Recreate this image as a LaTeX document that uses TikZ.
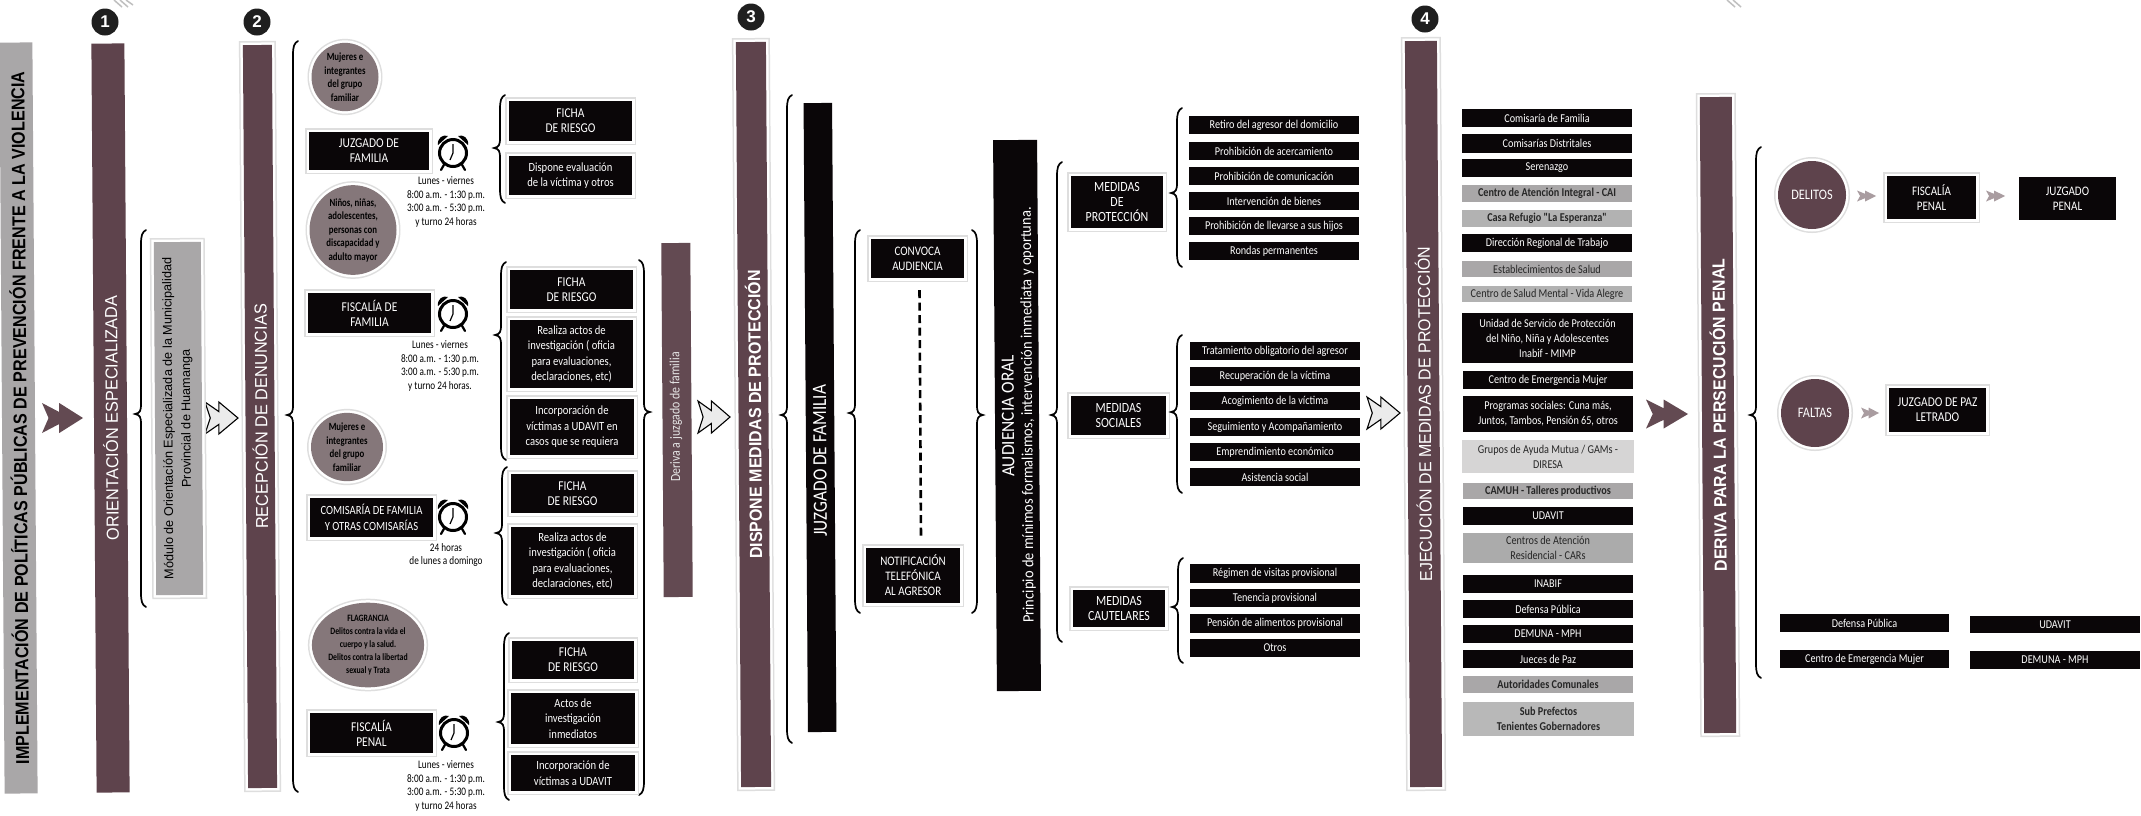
\documentclass[tikz,border=0pt]{standalone}
\usepackage{fontspec}
\usepackage{graphicx}
\usetikzlibrary{shapes.geometric,calc}
\newfontfamily\hf{Liberation Sans}
\newfontfamily\boxf[FakeStretch=0.85]{Carlito}
\newfontfamily\narf[FakeStretch=0.8]{Carlito}
\definecolor{mauve}{HTML}{5E434C}
\definecolor{mauvelight}{HTML}{634A52}
\definecolor{inkblack}{HTML}{0A0608}
\definecolor{greybox}{HTML}{A9A7A8}
\definecolor{paleboxc}{HTML}{D6D5D5}
\definecolor{haloc}{HTML}{DEDEDE}
\definecolor{circfill}{HTML}{85777A}
\definecolor{smallarrow}{HTML}{A99CA0}
\newcommand{\fs}[2]{\fontsize{#1}{#2}\selectfont}
\newcommand{\fit}[3]{\resizebox{#1pt}{#2pt}{#3}}
\newcommand{\rbox}[7]{%
  \pgfmathsetmacro{\bcx}{(#3+#5)/2}\pgfmathsetmacro{\bcy}{(#4+#6)/2}%
  \pgfmathsetmacro{\bw}{#5-#3}\pgfmathsetmacro{\bh}{#6-#4}%
  \node[#1,minimum width=\bw pt,minimum height=\bh pt] (#2) at (\bcx,\bcy) {#7};}
\newcommand{\curly}[5]{%
  \draw[bracket] ({#1+5*(#5)},#2) .. controls ({#1+1*(#5)},{#2+2}) and (#1,{#2+6}) .. (#1,{#2+14})
    -- (#1,{#3-10}) .. controls (#1,{#3-3}) and ({#1-1*(#5)},{#3-1}) .. ({#1-6*(#5)},#3)
    .. controls ({#1-1*(#5)},{#3+1}) and (#1,{#3+3}) .. (#1,{#3+10})
    -- (#1,{#4-14}) .. controls (#1,{#4-6}) and ({#1+1*(#5)},{#4-2}) .. ({#1+5*(#5)},#4);}
\newcommand{\dblarrow}[5]{%
  \begin{scope}[shift={(#2,#3)},x=#4pt,y=#5pt]
  \draw[#1] (0,-.5) -- (.42,-.2) -- (.42,-.5) -- (1,0) -- (.42,.5) -- (.42,.2) -- (0,.5) -- (.16,0) -- cycle;
  \end{scope}}
\newcommand{\clock}[2]{%
  \begin{scope}[shift={(#1,#2)}]
  \draw[line width=2.2pt,line cap=round] (-8,10) -- (-12,17) (8,10) -- (12,17);
  \fill[black] (-15,-8) .. controls (-16,-15) and (-10,-19) .. (-5,-17) -- cycle;
  \fill[black] (15,-8) .. controls (16,-15) and (10,-19) .. (5,-17) -- cycle;
  \draw[line width=3pt,fill=white] (0,0) circle (13.5);
  \draw[line width=1.2pt] (0,-9) -- (0,0) -- (-3,7);
  \end{scope}}
\tikzset{
  x=1pt,y=-1pt,
  halo/.style={preaction={draw=haloc,line width=8pt},preaction={draw=white,line width=5pt}},
  barbox/.style={rectangle,rotate=90.4,inner sep=0pt,fill=mauve,text=white},
  inkbox/.style={rectangle,fill=inkblack,text=white,inner sep=0pt,align=center,font=\boxf\fs{12.5}{15.5}},
  capbox/.style={inkbox,halo,font=\boxf\fs{13.5}{15}},
  listbox/.style={inkbox,font=\boxf\fs{12}{15}},
  greyitem/.style={rectangle,fill=greybox,text=black!85,inner sep=0pt,align=center,font=\boxf\bfseries\fs{12}{15}},
  paleitem/.style={greyitem,fill=paleboxc,font=\boxf\fs{12}{15}},
  bluecirc/.style={ellipse,fill=circfill,inner sep=0pt,align=center,text=black,halo,font=\narf\bfseries\fs{11}{13.5}},
  darkcirc/.style={ellipse,fill=mauve,inner sep=0pt,align=center,text=white,halo,font=\boxf\fs{14.5}{15}},
  badge/.style={circle,fill=black!88,text=white,inner sep=0pt,minimum size=27pt,font=\hf\bfseries\fs{17}{17}},
  note/.style={inner sep=0pt,align=center,text=black,font=\narf\fs{11.5}{13.7}},
  bracket/.style={draw=black,line width=1.7pt,line cap=round,fill=none},
  fatarrow/.style={fill=mauvelight,draw=none},
  hollowarrow/.style={fill=black!8,draw=black,line width=1.1pt},
  tinyarrow/.style={fill=smallarrow,draw=none},
  vlabel/.style={rotate=90.4,inner sep=0pt,align=center},
}
\begin{document}
\begin{tikzpicture}
\useasboundingbox (0,0) rectangle (2141,815);
\fill[white] (0,0) rectangle (2141,815);
% stray scan marks
\draw[black!25,line width=1.5pt] (114,0) -- (122,7) (120,0) -- (128,7) (126,0) -- (133,5);
\draw[black!25,line width=1.5pt] (1727,0) -- (1735,7) (1733,0) -- (1741,7);
% main bars
\node[barbox,fill=greybox,text=black,minimum width=751pt,minimum height=33pt] (b0) at (18.5,418) {\fit{693}{16.5}{\hf\bfseries IMPLEMENTACIÓN DE POLÍTICAS PÚBLICAS DE PREVENCIÓN FRENTE A LA VIOLENCIA}};
\node[barbox,minimum width=749pt,minimum height=33pt] (b1) at (110.5,418) {\fit{245}{15}{\hf ORIENTACIÓN ESPECIALIZADA}};
\node[barbox,halo,minimum width=743pt,minimum height=29pt] (b2) at (260,416.5) {\fit{225}{15}{\hf RECEPCIÓN DE DENUNCIAS}};
\node[barbox,halo,minimum width=745pt,minimum height=30pt] (b3) at (753.5,414.5) {\fit{289}{15.5}{\hf\bfseries DISPONE MEDIDAS DE PROTECCIÓN}};
\node[barbox,halo,minimum width=746pt,minimum height=32pt] (b4) at (1423.5,414) {\fit{335}{15}{\hf EJECUCIÓN DE MEDIDAS DE PROTECCIÓN}};
\node[barbox,halo,minimum width=636pt,minimum height=32pt] (b5) at (1718,415) {\fit{313}{15.5}{\hf\bfseries DERIVA PARA LA PERSECUCIÓN PENAL}};
% badges
\node[badge] (n1) at (105,22) {1};
\node[badge] (n2) at (257,22) {2};
\node[badge] (n3) at (751,17) {3};
\node[badge] (n4) at (1425,19) {4};
% arrows
\dblarrow{fatarrow}{42}{418}{41}{30}
\dblarrow{hollowarrow}{205}{418}{33}{32}
\dblarrow{hollowarrow}{698}{417}{32}{32}
\dblarrow{hollowarrow}{1367}{413}{33}{32}
\dblarrow{fatarrow}{1646}{414}{42}{29}
\dblarrow{tinyarrow}{1857}{196}{19}{11}
\dblarrow{tinyarrow}{1986}{196}{19}{11}
\dblarrow{tinyarrow}{1861}{413}{18}{11}
% modulo
\node[barbox,halo,fill=greybox,text=black,minimum width=353pt,minimum height=47pt] (mod) at (178.5,418.5) {};
\node[vlabel,text=black,font=\hf\fs{12.7}{18}] (modt) at (178,418.5) {Módulo de Orientación Especializada de la Municipalidad\\Provincial de Huamanga};
\curly{141}{230}{414}{607}{1}
% big brace
\curly{293}{41}{415}{792}{1}
% circles + source boxes
\node[bluecirc,minimum width=67pt,minimum height=66pt] (c1) at (345,77) {Mujeres e\\integrantes\\del grupo\\familiar};
\rbox{capbox}{jf}{309}{132}{429}{170}{JUZGADO DE\\FAMILIA}
\clock{453}{153}
\node[note] (h1) at (446,202) {Lunes - viernes\\8:00 a.m. - 1:30 p.m.\\3:00 a.m. - 5:30 p.m.\\y turno 24 horas};
\node[bluecirc,minimum width=87pt,minimum height=87pt] (c2) at (353,230) {Niños, niñas,\\adolescentes,\\personas con\\discapacidad y\\adulto mayor};
\rbox{capbox}{ff}{308}{293}{431}{333}{FISCALÍA DE\\FAMILIA}
\clock{453}{314}
\node[note] (h2) at (440,366) {Lunes - viernes\\8:00 a.m. - 1:30 p.m.\\3:00 a.m. - 5:30 p.m.\\y turno 24 horas.};
\node[bluecirc,minimum width=72pt,minimum height=67pt] (c3) at (347,447) {Mujeres e\\integrantes\\del grupo\\familiar};
\rbox{capbox,font=\boxf\fs{12.5}{16}}{cf}{310}{498}{433}{537}{COMISARÍA DE FAMILIA\\Y OTRAS COMISARÍAS}
\clock{453}{517}
\node[note] (h3) at (446,555) {24 horas\\de lunes a domingo};
\node[bluecirc,minimum width=107pt,minimum height=84pt,font=\narf\bfseries\fs{9.7}{13}] (c4) at (368,645) {FLAGRANCIA\\Delitos contra la vida el\\cuerpo y la salud.\\Delitos contra la libertad\\sexual y Trata};
\rbox{capbox}{fp}{310}{713}{433}{753}{FISCALÍA\\PENAL}
\clock{454}{733}
\node[note] (h4) at (446,786) {Lunes - viernes\\8:00 a.m. - 1:30 p.m.\\3:00 a.m. - 5:30 p.m.\\y turno 24 horas};
% ficha groups
\curly{500}{95}{148}{203}{1}
\curly{501}{262}{335}{460}{1}
\curly{502}{467}{533}{605}{1}
\curly{504}{633}{722}{800}{1}
\curly{644}{260}{412}{795}{-1}
\rbox{capbox}{f1}{509}{101}{632}{141}{FICHA\\DE RIESGO}
\rbox{inkbox,halo}{f2}{509}{156}{632}{195}{Dispone evaluación\\de la víctima y otros}
\rbox{capbox}{f3}{510}{270}{633}{309}{FICHA\\DE RIESGO}
\rbox{inkbox,halo}{f4}{510}{320}{633}{388}{Realiza actos de\\investigación ( oficia\\para evaluaciones,\\declaraciones, etc)}
\rbox{inkbox,halo}{f5}{510}{399}{634}{455}{Incorporación de\\víctimas a UDAVIT en\\casos que se requiera}
\rbox{capbox}{f6}{511}{474}{634}{513}{FICHA\\DE RIESGO}
\rbox{inkbox,halo}{f7}{511}{527}{634}{595}{Realiza actos de\\investigación ( oficia\\para evaluaciones,\\declaraciones, etc)}
\rbox{capbox}{f8}{512}{641}{634}{679}{FICHA\\DE RIESGO}
\rbox{inkbox,halo}{f9}{511}{693}{635}{744}{Actos de\\investigación\\inmediatos}
\rbox{inkbox,halo}{f10}{511}{755}{635}{791}{Incorporación de\\víctimas a UDAVIT}
% deriva
\node[barbox,fill=mauvelight,text=white!90!black,minimum width=354pt,minimum height=29pt] (der) at (677,420) {};
\node[vlabel,text=white!90!black,font=\boxf\fs{14}{14}] (dert) at (676,417) {Deriva a juzgado de familia};
% juzgado de familia
\curly{787}{95}{415}{743}{1}
\node[barbox,fill=inkblack,minimum width=629pt,minimum height=28.5pt] (jb) at (820,417.5) {};
\node[vlabel,text=white] (jbt) at (820,461) {\fit{152}{13}{\boxf JUZGADO DE FAMILIA}};
\curly{855}{230}{413}{613}{1}
\rbox{capbox,font=\boxf\fs{13}{15}}{conv}{871}{239}{964}{278}{CONVOCA\\AUDIENCIA}
\rbox{capbox,font=\boxf\fs{13}{15}}{noti}{866}{548}{960}{603}{NOTIFICACIÓN\\TELEFÓNICA\\AL AGRESOR}
\draw[line width=2.6pt,dash pattern=on 8pt off 4.5pt] ([xshift=2pt,yshift=-12pt]conv.south) -- ([xshift=8pt,yshift=8pt]noti.north);
\curly{977}{230}{415}{613}{-1}
% audiencia
\node[barbox,fill=inkblack,minimum width=551pt,minimum height=44pt] (aud) at (1017,415.5) {};
\node[vlabel,text=white] (audt1) at (1008,416) {\fit{122}{12}{\boxf AUDIENCIA ORAL}};
\node[vlabel,text=white] (audt2) at (1028,415) {\fit{416}{11}{\boxf Principio de mínimos formalismos, intervención inmediata y oportuna.}};
\curly{1057}{162}{415}{642}{1}
\rbox{capbox,font=\boxf\fs{14}{15}}{mp}{1071}{176}{1163}{228}{MEDIDAS\\DE\\PROTECCIÓN}
\rbox{capbox,font=\boxf\fs{14}{15}}{ms}{1071}{396}{1166}{435}{MEDIDAS\\SOCIALES}
\rbox{capbox,font=\boxf\fs{14}{15}}{mc}{1073}{590}{1165}{627}{MEDIDAS\\CAUTELARES}
\curly{1177}{108}{193}{267}{1}
\curly{1177}{335}{412}{493}{1}
\curly{1178}{558}{607}{663}{1}
% medidas lists
\rbox{listbox}{p1}{1189}{116}{1359}{134}{Retiro del agresor del domicilio}
\rbox{listbox}{p2}{1189}{142}{1359}{160}{Prohibición de acercamiento}
\rbox{listbox}{p3}{1189}{167}{1359}{185}{Prohibición de comunicación}
\rbox{listbox}{p4}{1189}{192}{1359}{210}{Intervención de bienes}
\rbox{listbox}{p5}{1189}{217}{1359}{235}{Prohibición de llevarse a sus hijos}
\rbox{listbox}{p6}{1189}{242}{1359}{260}{Rondas permanentes}
\rbox{listbox}{s1}{1190}{342}{1360}{360}{Tratamiento obligatorio del agresor}
\rbox{listbox}{s2}{1190}{367}{1360}{386}{Recuperación de la víctima}
\rbox{listbox}{s3}{1190}{392}{1360}{410}{Acogimiento de la víctima}
\rbox{listbox}{s4}{1190}{418}{1360}{436}{Seguimiento y Acompañamiento}
\rbox{listbox}{s5}{1190}{443}{1360}{461}{Emprendimiento económico}
\rbox{listbox}{s6}{1190}{468}{1360}{486}{Asistencia social}
\rbox{listbox}{k1}{1190}{564}{1360}{583}{Régimen de visitas provisional}
\rbox{listbox}{k2}{1190}{589}{1360}{607}{Tenencia provisional}
\rbox{listbox}{k3}{1190}{614}{1360}{633}{Pensión de alimentos provisional}
\rbox{listbox}{k4}{1190}{639}{1360}{657}{Otros}
% institutions column
\rbox{listbox}{i1}{1462}{109}{1632}{127}{Comisaría de Familia}
\rbox{listbox}{i2}{1462}{134}{1632}{153}{Comisarías Distritales}
\rbox{listbox}{i3}{1462}{159}{1632}{177}{Serenazgo}
\rbox{greyitem}{i4}{1462}{185}{1632}{202}{Centro de Atención Integral - CAI}
\rbox{greyitem,fill=black!30}{i5}{1462}{210}{1632}{227}{Casa Refugio "La Esperanza"}
\rbox{listbox}{i6}{1462}{234}{1632}{252}{Dirección Regional de Trabajo}
\rbox{paleitem,fill=greybox}{i7}{1462}{261}{1632}{277}{Establecimientos de Salud}
\rbox{paleitem,fill=black!30}{i8}{1462}{286}{1632}{302}{Centro de Salud Mental - Vida Alegre}
\rbox{listbox}{i9}{1462}{313}{1633}{363}{Unidad de Servicio de Protección\\del Niño, Niña y Adolescentes\\Inabif - MIMP}
\rbox{listbox}{i10}{1463}{371}{1633}{389}{Centro de Emergencia Mujer}
\rbox{listbox}{i11}{1463}{396}{1633}{432}{Programas sociales: Cuna más,\\Juntos, Tambos, Pensión 65, otros}
\rbox{paleitem}{i12}{1462}{440}{1634}{473}{Grupos de Ayuda Mutua / GAMs -\\DIRESA}
\rbox{greyitem}{i13}{1463}{483}{1633}{499}{CAMUH - Talleres productivos}
\rbox{listbox}{i14}{1463}{507}{1633}{525}{UDAVIT}
\rbox{paleitem,fill=black!33}{i15}{1463}{533}{1633}{563}{Centros de Atención\\Residencial - CARs}
\rbox{listbox}{i16}{1463}{575}{1633}{593}{INABIF}
\rbox{listbox}{i17}{1463}{600}{1633}{618}{Defensa Pública}
\rbox{listbox}{i18}{1463}{625}{1633}{643}{DEMUNA - MPH}
\rbox{listbox}{i19}{1463}{650}{1633}{668}{Jueces de Paz}
\rbox{greyitem}{i20}{1463}{676}{1633}{693}{Autoridades Comunales}
\rbox{greyitem,fill=black!28}{i21}{1463}{702}{1634}{736}{Sub Prefectos\\Tenientes Gobernadores}
% penal
\curly{1756}{147}{415}{678}{1}
\node[darkcirc,minimum width=68pt,minimum height=68pt] (del) at (1812,195) {DELITOS};
\node[darkcirc,minimum width=68pt,minimum height=68pt] (fal) at (1815,413) {FALTAS};
\rbox{capbox,font=\boxf\fs{13}{15}}{pf}{1887}{176}{1976}{219}{FISCALÍA\\PENAL}
\rbox{inkbox,font=\boxf\fs{13}{15}}{pj}{2019}{177}{2116}{220}{JUZGADO\\PENAL}
\rbox{capbox,font=\boxf\fs{13.5}{15}}{jp}{1889}{388}{1986}{432}{JUZGADO DE PAZ\\LETRADO}
\rbox{listbox}{d1}{1780}{614}{1949}{632}{Defensa Pública}
\rbox{listbox}{d2}{1780}{650}{1949}{668}{Centro de Emergencia Mujer}
\rbox{listbox}{d3}{1970}{616}{2140}{633}{UDAVIT}
\rbox{listbox}{d4}{1970}{651}{2140}{669}{DEMUNA - MPH}
\end{tikzpicture}
\end{document}
